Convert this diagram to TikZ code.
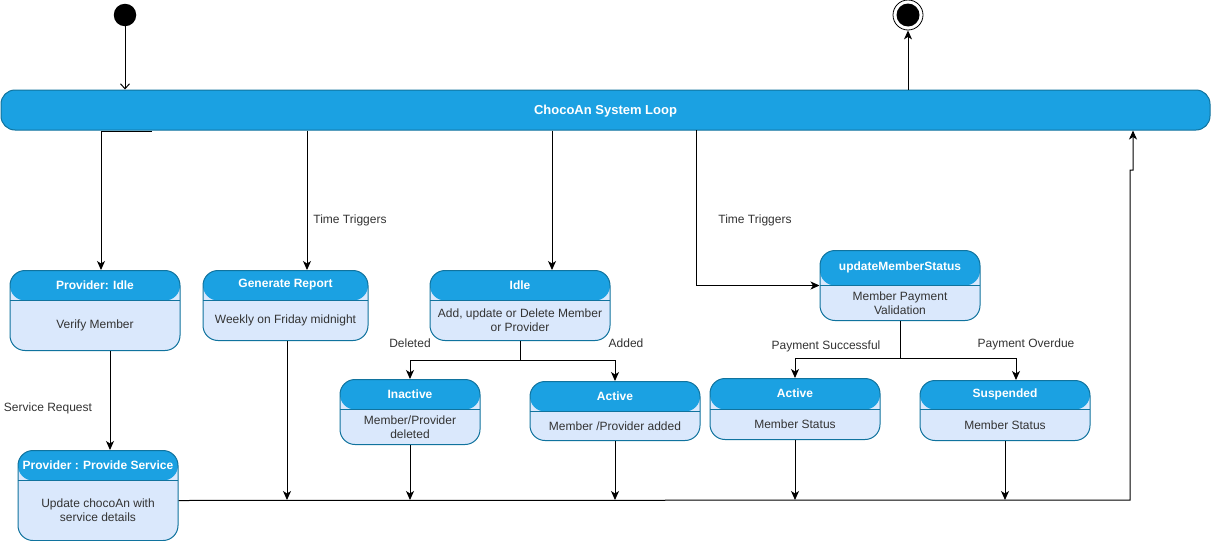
\documentclass[tikz,border=0pt]{standalone}
\usepackage{fontspec}
\setmainfont{Liberation Sans}
\usetikzlibrary{arrows.meta,calc}
\definecolor{hdrblue}{HTML}{1BA1E2}
\definecolor{bodyblue}{HTML}{DAE8FC}
\definecolor{edgeblue}{HTML}{10739E}
\definecolor{txtgray}{HTML}{333333}
\tikzset{
  stbox/.style={draw=edgeblue, line width=1pt, fill=bodyblue, rounded corners=15pt, inner sep=0pt},
  hdr/.style={fill=hdrblue},
  stline/.style={draw=edgeblue, line width=1pt},
  ttl/.style={font=\fontsize{12}{14}\selectfont\bfseries, text=white, inner sep=1pt},
  bdy/.style={font=\fontsize{12}{14}\selectfont, text=txtgray, align=center, inner sep=1pt},
  lbl/.style={font=\fontsize{12}{14}\selectfont, text=txtgray, inner sep=1pt},
  bar/.style={draw=edgeblue, line width=1pt, fill=hdrblue, rounded corners=14pt, text=white, font=\fontsize{13}{15}\selectfont\bfseries},
  conn/.style={draw=black, line width=1pt, line join=miter},
  arr/.style={conn, -{Stealth[length=9pt,width=8pt,inset=2.5pt]}},
  openarr/.style={conn, -{Straight Barb[length=5pt,width=9pt]}}
}
\newcommand{\ststate}[8]{%
  \node[stbox, minimum width=#4pt, minimum height=#5pt, anchor=north,
    path picture={\fill[hdr] (path picture bounding box.north west) rectangle ([yshift=-#6pt]path picture bounding box.north east);
      \draw[stline] ([yshift=-#6pt]path picture bounding box.north west) -- ([yshift=-#6pt]path picture bounding box.north east);}]
    (#1) at (#2,#3) {};
  \node[ttl] (#1t) at ([yshift=-#6pt*0.5]#1.north) {#7};
  \node[bdy] (#1b) at ($([yshift=-#6pt]#1.north)!0.5!(#1.south)$) {#8};
}
\begin{document}
\begin{tikzpicture}[x=1pt,y=-1pt]
\useasboundingbox (0,0) rectangle (1211,541);
\fill[white] (0,0) rectangle (1211,541);

% start / end
\node[circle, fill=black, minimum size=22.5pt, inner sep=0pt] (start) at (125,15) {};
\node[circle, draw=black, line width=0.8pt, fill=white, minimum size=30pt, inner sep=0pt,
  path picture={\fill[black] (path picture bounding box.center) circle (11.5pt);}] (endn) at (908,15) {};

% main bar
\node[bar, minimum width=1209pt, minimum height=40pt] (loop) at (605.5,110) {};
\node[text=white, font=\fontsize{13}{15}\selectfont\bfseries, inner sep=0pt] (looptxt) at (605.5,111.5) {ChocoAn System Loop};

% states
\ststate{pidle}{95}{270}{170}{80}{30}{Provider: Idle}{Verify Member}
\ststate{genrep}{285.5}{270}{165}{70}{30}{Generate Report}{Weekly on Friday midnight}
\ststate{idle}{520}{270}{180}{70}{30}{Idle}{Add, update or Delete Member\\or Provider}
\ststate{ums}{900}{250}{160}{70}{35}{updateMemberStatus}{Member Payment\\Validation}
\ststate{inact}{410}{379}{140}{65}{30}{Inactive}{Member/Provider\\deleted}
\ststate{actm}{615}{381}{170}{59}{30}{Active}{Member /Provider added}
\ststate{actr}{795}{378}{170}{61}{31}{Active}{Member Status}
\ststate{susp}{1005}{380}{170}{60}{29}{Suspended}{Member Status}
\ststate{psvc}{98}{450}{160}{90}{30}{Provider : Provide Service}{Update chocoAn with\\service details}

% start and end arrows
\draw[openarr] (start) -- (start |- loop.north);
\draw[arr] (loop.north -| endn) -- (endn.south);

% from loop
\coordinate (j1) at (152,131);
\draw[arr] (j1) -| ([xshift=6pt]pidle.north);
\draw[arr] ([xshift=21.5pt]genrep.north |- loop.south) -- ([xshift=21.5pt]genrep.north);
\node[lbl] (lt1) at (350,220) {Time Triggers};
\draw[arr] ([xshift=32pt]idle.north |- loop.south) -- ([xshift=32pt]idle.north);
\coordinate (j2) at (696,130);
\draw[arr] (j2) |- (ums.west);
\node[lbl] (lt2) at (755,220) {Time Triggers};

% provider
\draw[arr] ([xshift=15pt]pidle.south) -- ([xshift=12pt]psvc.north);
\node[lbl] (lsr) at (48,408) {Service Request};

% idle branch
\coordinate (b1) at (520,360);
\draw[conn] (idle.south) -- (b1);
\draw[arr] (b1) -| (inact.north);
\draw[arr] (b1) -| (actm.north);
\node[lbl] (ldel) at (410,343) {Deleted};
\node[lbl] (ladd) at (626,343) {Added};

% ums branch
\coordinate (b2) at (900,358);
\draw[conn] (ums.south) -- (b2);
\draw[arr] (b2) -| (actr.north);
\draw[arr] (b2) -| ([xshift=11pt]susp.north);
\node[lbl] (lps) at (826,346) {Payment Successful};
\node[lbl] (lpo) at (1026,344) {Payment Overdue};

% bus back to loop
\coordinate (bus1) at (1130,500);
\coordinate (bus2) at (1130,170);
\coordinate (bus3) at (1133,170);
\draw[arr] ([yshift=-5pt]psvc.east) -- (bus1) -- (bus2) -- (bus3) -- (bus3 |- loop.south);
\draw[arr] ([xshift=1.5pt]genrep.south) -- ([xshift=1.5pt]genrep.south |- bus1);
\draw[arr] (inact.south) -- (inact.south |- bus1);
\draw[arr] (actm.south) -- (actm.south |- bus1);
\draw[arr] (actr.south) -- (actr.south |- bus1);
\draw[arr] (susp.south) -- (susp.south |- bus1);
\end{tikzpicture}
\end{document}
